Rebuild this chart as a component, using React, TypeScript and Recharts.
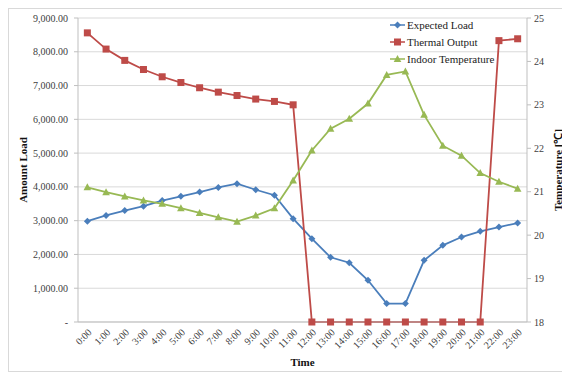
import { LineChart, Line, XAxis, YAxis, CartesianGrid, Legend } from 'recharts';

const hours = [
  '0:00', '1:00', '2:00', '3:00', '4:00', '5:00', '6:00', '7:00', '8:00', '9:00', '10:00', '11:00',
  '12:00', '13:00', '14:00', '15:00', '16:00', '17:00', '18:00', '19:00', '20:00', '21:00', '22:00', '23:00',
];

const expectedLoad = [
  2985, 3155, 3300, 3430, 3595, 3720, 3845, 3985, 4095, 3915, 3755, 3060,
  2465, 1915, 1755, 1235, 545, 545, 1825, 2270, 2515, 2685, 2810, 2930,
];

const thermalOutput = [
  8560, 8080, 7745, 7475, 7260, 7090, 6935, 6805, 6705, 6600, 6530, 6430,
  0, 0, 0, 0, 0, 0, 0, 0, 0, 0, 8330, 8385,
];

const indoorTemp = [
  21.1, 20.99, 20.89, 20.8, 20.72, 20.62, 20.51, 20.41, 20.31, 20.45, 20.62, 21.26,
  21.95, 22.45, 22.68, 23.03, 23.69, 23.77, 22.77, 22.06, 21.83, 21.43, 21.23, 21.07,
];

const loadTicks = [0, 1000, 2000, 3000, 4000, 5000, 6000, 7000, 8000, 9000];
const tempTicks = [18, 19, 20, 21, 22, 23, 24, 25];

const BLUE = '#4A7EBB';
const RED = '#BE4B48';
const GREEN = '#98B954';
const FONT = '"Liberation Serif", "Times New Roman", serif';

const data = hours.map((h, i) => ({
  time: h,
  load: expectedLoad[i],
  thermal: thermalOutput[i],
  temp: indoorTemp[i],
}));

const fmtLoad = (v: number) =>
  v === 0 ? '-' : v.toLocaleString('en-US', { minimumFractionDigits: 2, maximumFractionDigits: 2 });

const Diamond = ({ cx, cy, color }: any) => (
  <path d={`M${cx},${cy - 3.5}L${cx + 3.5},${cy}L${cx},${cy + 3.5}L${cx - 3.5},${cy}Z`} fill={color} />
);
const Square = ({ cx, cy, color }: any) => (
  <rect x={cx - 3.5} y={cy - 3.5} width={7} height={7} fill={color} />
);
const Triangle = ({ cx, cy, color }: any) => (
  <path d={`M${cx},${cy - 4}L${cx + 3.8},${cy + 3}L${cx - 3.8},${cy + 3}Z`} fill={color} />
);

const legendItems = [
  { name: 'Expected Load', color: BLUE, Shape: Diamond },
  { name: 'Thermal Output', color: RED, Shape: Square },
  { name: 'Indoor Temperature', color: GREEN, Shape: Triangle },
];

const CustomLegend = () => (
  <svg width={130} height={54}>
    {legendItems.map((it, i) => {
      const y = 7 + i * 17;
      return (
        <g key={it.name}>
          <line x1={0} x2={15} y1={y} y2={y} stroke={it.color} strokeWidth={1.5} />
          <it.Shape cx={7.5} cy={y} color={it.color} />
          <text x={17} y={y + 4} fontSize={11} fontFamily={FONT} fill="#222">
            {it.name}
          </text>
        </g>
      );
    })}
  </svg>
);

export default function App() {
  return (
    <div
      style={{
        width: 561,
        height: 362,
        borderTop: '1px solid #d9d9d9',
        borderLeft: '1px solid #d9d9d9',
        borderBottom: '1px solid #d9d9d9',
        background: '#fff',
      }}
    >
      <LineChart width={561} height={362} data={data} margin={{ top: 9, right: 8, bottom: 17, left: 0 }}>
        <CartesianGrid vertical={false} stroke="#d9d9d9" yAxisId="left" />
        <XAxis
          dataKey="time"
          interval={0}
          angle={-45}
          textAnchor="end"
          height={32}
          padding={{ left: 9.35, right: 9.35 }}
          tickSize={0}
          tickMargin={6}
          axisLine={{ stroke: '#bfbfbf' }}
          tick={{ fontSize: 10, fontFamily: FONT, fill: '#404040' }}
          label={{
            content: ({ viewBox }: any) => (
              <text
                x={viewBox.x + viewBox.width / 2}
                y={357}
                textAnchor="middle"
                fontSize={11}
                fontWeight="bold"
                fontFamily={FONT}
                fill="#111"
              >
                Time
              </text>
            ),
          }}
        />
        <YAxis
          yAxisId="left"
          domain={[0, 9000]}
          ticks={loadTicks}
          tickFormatter={fmtLoad}
          width={69}
          tickSize={4}
          tickMargin={6}
          axisLine={{ stroke: '#bfbfbf' }}
          tickLine={{ stroke: '#bfbfbf' }}
          tick={{ fontSize: 10, fontFamily: FONT, fill: '#404040' }}
          label={{
            content: ({ viewBox }: any) => {
              const cy = viewBox.y + viewBox.height / 2;
              return (
                <text
                  x={14}
                  y={cy}
                  transform={`rotate(-90 14 ${cy})`}
                  textAnchor="middle"
                  dominantBaseline="central"
                  fontSize={11}
                  fontWeight="bold"
                  fontFamily={FONT}
                  fill="#111"
                >
                  Amount Load
                </text>
              );
            },
          }}
        />
        <YAxis
          yAxisId="right"
          orientation="right"
          domain={[18, 25]}
          ticks={tempTicks}
          width={35}
          tickSize={4}
          tickMargin={3}
          axisLine={{ stroke: '#bfbfbf' }}
          tickLine={{ stroke: '#bfbfbf' }}
          tick={{ fontSize: 10, fontFamily: FONT, fill: '#404040' }}
          label={{
            content: ({ viewBox }: any) => {
              const cy = viewBox.y + viewBox.height / 2;
              return (
                <text
                  x={549}
                  y={cy}
                  transform={`rotate(-90 549 ${cy})`}
                  textAnchor="middle"
                  dominantBaseline="central"
                  fontSize={11}
                  fontWeight="bold"
                  fontFamily={FONT}
                  fill="#111"
                >
                  Temperature [℃]
                </text>
              );
            },
          }}
        />
        <Legend
          layout="vertical"
          align="center"
          verticalAlign="middle"
          content={<CustomLegend />}
          wrapperStyle={{ position: 'absolute', left: 381, top: 9, width: 130, height: 54 }}
        />
        <Line
          yAxisId="left"
          dataKey="load"
          name="Expected Load"
          stroke={BLUE}
          strokeWidth={1.8}
          isAnimationActive={false}
          dot={(p: any) => <Diamond key={p.index} cx={p.cx} cy={p.cy} color={BLUE} />}
          activeDot={false}
        />
        <Line
          yAxisId="left"
          dataKey="thermal"
          name="Thermal Output"
          stroke={RED}
          strokeWidth={1.8}
          isAnimationActive={false}
          dot={(p: any) => <Square key={p.index} cx={p.cx} cy={p.cy} color={RED} />}
          activeDot={false}
        />
        <Line
          yAxisId="right"
          dataKey="temp"
          name="Indoor Temperature"
          stroke={GREEN}
          strokeWidth={1.8}
          isAnimationActive={false}
          dot={(p: any) => <Triangle key={p.index} cx={p.cx} cy={p.cy} color={GREEN} />}
          activeDot={false}
        />
      </LineChart>
    </div>
  );
}
